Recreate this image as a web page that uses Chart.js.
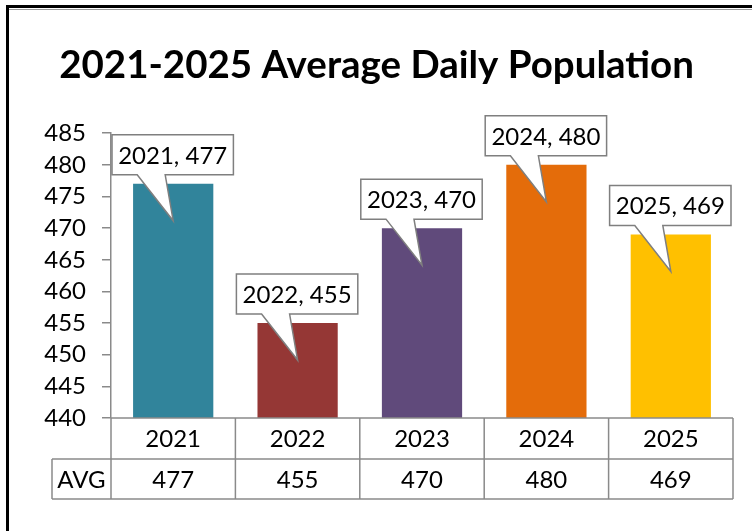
<!DOCTYPE html>
<html>
<head>
<meta charset="utf-8">
<script src="https://cdn.jsdelivr.net/npm/chart.js@4"></script>
<style>
  html, body { margin: 0; padding: 0; background: #fff; }
  #wrap { width: 752px; height: 531px; position: relative; }
</style>
</head>
<body>
<div id="wrap"><canvas id="adpChart" width="752" height="531"></canvas></div>
<script>
var years = ['2021', '2022', '2023', '2024', '2025'];
var avgValues = [477, 455, 470, 480, 469];
var barColors = ['#31849B', '#953735', '#604A7B', '#E46C0A', '#FFC000'];
var rowLabel = 'AVG';
var chartTitle = '2021-2025 Average Daily Population';

var FONT = 'Lato, "Open Sans", sans-serif';
var LINE = '#8a8a8a';

// black frame round the picture
var framePlugin = {
  id: 'frame',
  beforeDraw: function (chart) {
    var c = chart.ctx;
    c.save();
    c.fillStyle = '#fff';
    c.fillRect(0, 0, chart.width, chart.height);
    c.fillStyle = '#000';
    c.fillRect(6, 5, chart.width - 6, 3);
    c.fillRect(6, 5, 3, chart.height - 5);
    c.fillStyle = '#9a9a9a';
    c.fillRect(9, 9, chart.width - 9, 1);
    c.restore();
  }
};

// callout labels pointing at each bar
var calloutPlugin = {
  id: 'callouts',
  afterDatasetsDraw: function (chart) {
    var c = chart.ctx;
    var area = chart.chartArea;
    var catW = (area.right - area.left) / years.length;
    var meta = chart.getDatasetMeta(0);
    c.save();
    meta.data.forEach(function (bar, i) {
      var cx = bar.x;
      var bottom = bar.y - 9;
      var top = bottom - 40;
      var left = cx - catW / 2 + 1;
      var right = cx + catW / 2 - 2;
      c.beginPath();
      c.moveTo(left, top);
      c.lineTo(right, top);
      c.lineTo(right, bottom);
      c.lineTo(cx - 8, bottom);
      c.lineTo(cx, bar.y + 37);
      c.lineTo(cx - 36, bottom);
      c.lineTo(left, bottom);
      c.closePath();
      c.fillStyle = '#fff';
      c.fill();
      c.strokeStyle = '#7f7f7f';
      c.lineWidth = 1.5;
      c.stroke();
      c.fillStyle = '#000';
      c.font = '24px ' + FONT;
      c.textAlign = 'center';
      c.textBaseline = 'middle';
      c.fillText(years[i] + ', ' + avgValues[i], (left + right) / 2, (top + bottom) / 2 + 1);
    });
    c.restore();
  }
};

// data table under the plot
var tablePlugin = {
  id: 'dataTable',
  afterDraw: function (chart) {
    var c = chart.ctx;
    var area = chart.chartArea;
    var n = years.length;
    var catW = (area.right - area.left) / n;
    var y0 = area.bottom, y1 = y0 + 41, y2 = y1 + 40;
    var tableLeft = 52;
    c.save();
    c.strokeStyle = LINE;
    c.lineWidth = 1.5;
    c.beginPath();
    c.moveTo(area.left, y0); c.lineTo(area.right, y0);
    c.moveTo(tableLeft, y1); c.lineTo(area.right, y1);
    c.moveTo(tableLeft, y2); c.lineTo(area.right, y2);
    c.moveTo(tableLeft, y1); c.lineTo(tableLeft, y2);
    for (var i = 0; i <= n; i++) {
      var x = area.left + i * catW;
      c.moveTo(x, y0); c.lineTo(x, y2);
    }
    c.stroke();
    c.fillStyle = '#000';
    c.font = '24px ' + FONT;
    c.textAlign = 'center';
    c.textBaseline = 'middle';
    for (var j = 0; j < n; j++) {
      var mx = area.left + (j + 0.5) * catW;
      c.fillText(years[j], mx, (y0 + y1) / 2 + 1);
      c.fillText(String(avgValues[j]), mx, (y1 + y2) / 2 + 1);
    }
    c.fillText(rowLabel, (tableLeft + area.left) / 2, (y1 + y2) / 2 + 1);
    c.restore();
  }
};

var ctx = document.getElementById('adpChart');
var adpChart = new Chart(ctx, {
  type: 'bar',
  data: {
    labels: years,
    datasets: [{
      label: rowLabel,
      data: avgValues,
      backgroundColor: barColors,
      borderWidth: 0,
      barPercentage: 0.645,
      categoryPercentage: 1.0
    }]
  },
  options: {
    responsive: false,
    animation: false,
    layout: { padding: { left: 20, right: 19, top: 10, bottom: 113 } },
    plugins: {
      legend: { display: false },
      tooltip: { enabled: false },
      title: {
        display: true,
        text: chartTitle,
        color: '#000',
        font: { family: FONT, size: 38.5, weight: 'bold' },
        padding: { top: 32, bottom: 45 }
      }
    },
    scales: {
      x: { display: false },
      y: {
        min: 440,
        max: 485,
        afterFit: function (scale) { scale.width = 91; },
        ticks: {
          stepSize: 5,
          autoSkip: false,
          padding: 16,
          color: '#000',
          font: { family: FONT, size: 24 }
        },
        grid: { drawOnChartArea: false, tickLength: 9, color: LINE, lineWidth: 1.5 },
        border: { color: LINE, width: 1.5 }
      }
    }
  },
  plugins: [framePlugin, calloutPlugin, tablePlugin]
});
</script>
</body>
</html>
